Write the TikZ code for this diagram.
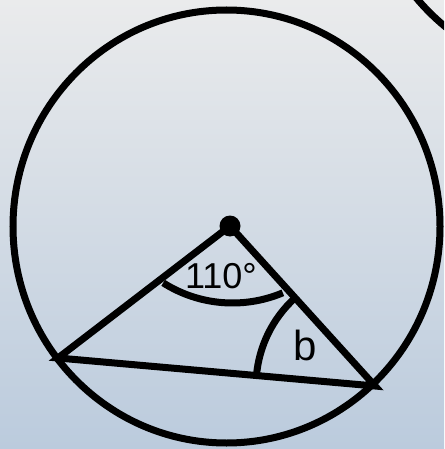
\documentclass[tikz,border=0pt]{standalone}
\usepackage{fontspec}
\setmainfont{Liberation Sans}
\definecolor{bgtop}{HTML}{EAEBEC}
\definecolor{bgmid}{HTML}{D5DAE0}
\definecolor{bgbot}{HTML}{BBCBDD}
\tikzset{
  stroke/.style={draw=black, line width=7pt},
  anglearc/.style={draw=black, line width=7pt},
  lbl/.style={inner sep=0pt, text=black}
}
\begin{document}
\begin{tikzpicture}[x=1pt,y=-1pt]
\path[use as bounding box] (0,0) rectangle (444,449);
\shade[top color=bgtop, middle color=bgmid, bottom color=bgbot] (0,0) rectangle (444,449);
% other circle, top right
\begin{scope}
\clip (0,0) rectangle (444,449);
\coordinate (C2) at (583,-141);
\draw[stroke] (C2) circle[radius=217];
\end{scope}
% main circle
\coordinate (C) at (226.5,226.5);
\draw[stroke] (C) ellipse[x radius=213.5, y radius=216.5];
% triangle
\coordinate (O) at (230,226);
\coordinate (A) at (58,358);
\coordinate (B) at (375,386);
\draw[stroke, line join=miter] (A) -- (O) -- (B) -- cycle;
% angle arcs
\coordinate (c1) at (232.5,173.6);
\draw[anglearc] ([shift={(122.4:129.4)}]c1) arc[start angle=122.4, end angle=67.1, radius=129.4];
\draw[anglearc] ([shift={(-132.2:119)}]B) arc[start angle=-132.2, end angle=-175, radius=119];
% centre dot
\fill[black] (O) circle[radius=10.5];
% labels
\node[lbl] (t110) at (221,276) {\fontsize{36}{36}\selectfont 110°};
\node[lbl] (tb) at (305,345) {\fontsize{42}{42}\selectfont b};
\end{tikzpicture}
\end{document}
